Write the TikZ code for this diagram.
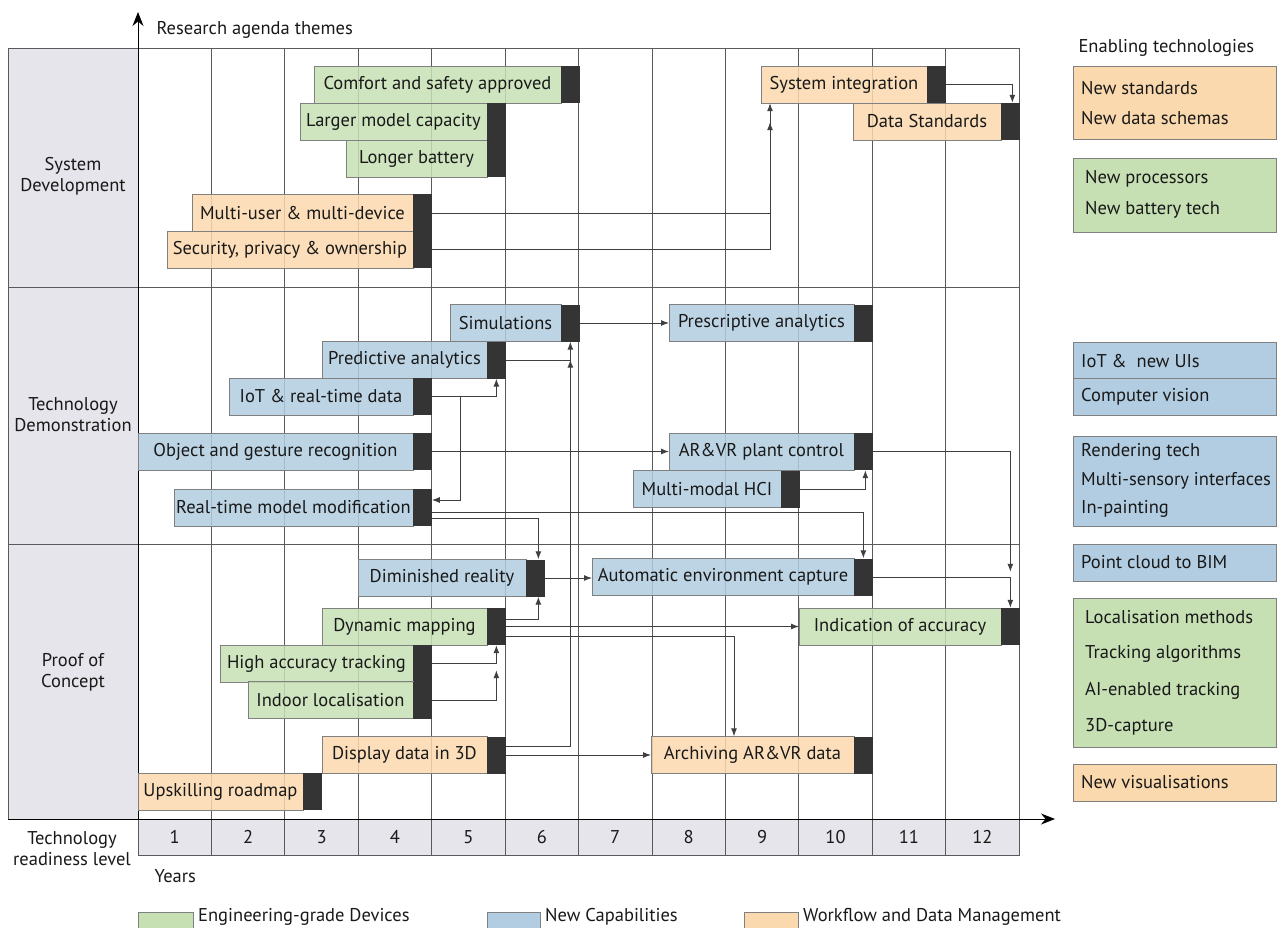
\documentclass[tikz,border=0pt]{standalone}
\usepackage{fontspec}
\setmainfont{PT Sans}
\usetikzlibrary{arrows.meta}
\definecolor{grn}{RGB}{198,224,180}
\definecolor{blu}{RGB}{178,205,225}
\definecolor{org}{RGB}{251,217,174}
\definecolor{endc}{RGB}{52,52,52}
\definecolor{lbl}{RGB}{229,229,235}
\definecolor{ink}{RGB}{25,25,25}
\definecolor{gridc}{RGB}{90,90,90}
\begin{document}
\begin{tikzpicture}[x=1pt,y=-1pt,
    every node/.style={font=\fontsize{18.5}{21}\selectfont, text=ink},
    gridline/.style={draw=gridc, line width=0.8pt},
    bar/.style={draw=gray, fill opacity=0.85, text opacity=1, minimum height=37pt, inner sep=0pt, anchor=west},
    endblock/.style={fill=endc, minimum width=18.5pt, minimum height=37pt, inner sep=0pt, anchor=west},
    link/.style={draw=gridc!70!black, line width=1pt, -{Latex[length=8pt,width=6pt]}},
    axis/.style={draw=black, line width=1pt, -{Stealth[length=14pt,width=11pt]}},
    techbox/.style={draw=gray, line width=0.8pt}]
    \useasboundingbox (0,0) rectangle (1284,928);

    % grid and theme column
    \fill[lbl] (8,48) rectangle (138,819);
    \foreach \i in {1,...,11}{
        \draw[gridline] (138+73.42*\i,48) -- (138+73.42*\i,819);
    }
    \foreach \y in {48,287,544}{
        \draw[gridline] (8,\y) -- (1019,\y);
    }
    \draw[gridline] (8,48) -- (8,819);
    \draw[gridline] (1019,48) -- (1019,819);

    % readiness level row
    \filldraw[fill=lbl, gridline] (138,819) rectangle (1019,855);
    \foreach \i in {1,...,12}{
        \draw[gridline] (138+73.42*\i,819) -- (138+73.42*\i,855);
        \node (trl\i) at (138+73.42*\i-36.71,837) {\i};
    }
    \draw[axis] (8,819) -- (1055,819);
    \draw[axis] (138,819) -- (138,12);

    \node[anchor=west] (themes) at (153,30) {Research agenda themes};
    \node[anchor=west] (enabling) at (1075,48) {Enabling technologies};
    \node[align=center] (secsys) at (73,176) {System\\Development};
    \node[align=center] (sectech) at (73,415) {Technology\\Demonstration};
    \node[align=center] (secpoc) at (73,672) {Proof of\\Concept};
    \node[align=center] (trllabel) at (72,849) {Technology\\readiness level};
    \node[anchor=west] (years) at (151,876) {Years};

    % bars
    \foreach \n/\xa/\xb/\yc/\c/\t in {
        comfort/314/579/84.5/grn/{Comfort and safety approved},
        capacity/300/505/121.5/grn/{Larger model capacity},
        battery/346/505/158.5/grn/{Longer battery},
        multiuser/192/431/213/org/{Multi-user \& multi-device},
        security/167/431/249.5/org/{Security, privacy \& ownership},
        integration/761/945/84.5/org/{System integration},
        datastd/853/1019/121.5/org/{Data Standards},
        simulations/450/579/323/blu/{Simulations},
        predictive/322/505/360/blu/{Predictive analytics},
        iot/229/431/396.5/blu/{IoT \& real-time data},
        gesture/138/431/451.5/blu/{Object and gesture recognition},
        realtime/174/431/507.5/blu/{Real-time model modification},
        prescriptive/669/872/323/blu/{Prescriptive analytics},
        arvr/669/872/451.5/blu/{AR\&VR plant control},
        hci/633/799/489/blu/{Multi-modal HCI},
        diminished/358/544/578/blu/{Diminished reality},
        capture/592/872/577/blu/{Automatic environment capture},
        mapping/322/505/626.5/grn/{Dynamic mapping},
        accuracy/799/1019/626.5/grn/{Indication of accuracy},
        tracking/220/431/663.5/grn/{High accuracy tracking},
        indoor/248/431/700/grn/{Indoor localisation},
        display/322/505/755/org/{Display data in 3D},
        archiving/651/872/755/org/{Archiving AR\&VR data},
        upskilling/138/321/791.5/org/{Upskilling roadmap}}{
        \node[bar, fill=\c, minimum width=\xb-\xa-18.5] (\n) at (\xa,\yc) {\t};
        \node[endblock] (\n-e) at (\n.east) {};
    }

    % system development links
    \draw[link] (multiuser-e) -| ([xshift=9pt]integration.south west);
    \draw[link] (security-e) -| ([xshift=9pt,yshift=-19pt]integration.south west);
    \draw[link] (integration-e) -| ([xshift=2pt]datastd-e.north);

    % technology demonstration links
    \draw[link] (simulations-e) -- (prescriptive);
    \draw[link] (predictive-e) -| (simulations-e.south);
    \draw[link] (iot-e) -| (predictive-e.south);
    \draw[link] (iot-e.east) -- ++(29,0) |- ([yshift=7.5pt]realtime-e.east);
    \draw[link] (gesture-e) -- (arvr);
    \draw[link] ([yshift=-4.5pt]realtime-e.east) -| (capture-e.north);
    \draw[link] ([yshift=-10.5pt]realtime-e.east) -| ([xshift=3pt]diminished-e.north);
    \draw[link] (hci-e) -| ([xshift=2pt]arvr-e.south);
    \draw[link] (arvr-e) -| ([yshift=36pt]accuracy-e.north);

    % proof of concept links
    \draw[link] (diminished-e) -- (diminished-e -| capture.west);
    \draw[link] (capture-e) -| (accuracy-e.north);
    \draw[link] ([yshift=7.5pt]mapping-e.east) -| ([xshift=3pt]diminished-e.south);
    \draw[link] (mapping-e) -- (accuracy);
    \draw[link] ([yshift=-9.5pt]mapping-e.east) -| ([xshift=83pt]archiving.north west);
    \draw[link] (tracking-e) -| (mapping-e.south);
    \draw[link] (indoor-e) -| ([yshift=-25pt]mapping-e.south);
    \draw[link] ([yshift=9pt]display-e.east) -| ([yshift=-18pt]simulations-e.south);
    \draw[link] (display-e) -- (archiving);

    % enabling technologies
    \foreach \ya/\yb/\c in {66/139/org,158/232/grn,342/415/blu,436/526/blu,544/581/blu,598/747/grn,764/801/org}{
        \filldraw[techbox, fill=\c] (1073,\ya) rectangle (1276,\yb);
    }
    \draw[techbox] (1073,378) -- (1276,378);
    \foreach \n/\x/\y/\t in {ta/1081/88/New standards, tb/1081/118/New data schemas,
        tc/1085/179/New processors, td/1085/210/New battery tech,
        te/1081/361/{IoT \&~ new UIs}, tf/1081/397/Computer vision,
        tg/1081/452/Rendering tech, th/1081/481/Multi-sensory interfaces, ti/1081/509/In-painting,
        tj/1081/562/Point cloud to BIM,
        tk/1085/617/Localisation methods, tl/1085/654/Tracking algorithms,
        tm/1085/691/AI-enabled tracking, tn/1085/727/3D-capture,
        to/1081/782/New visualisations}{
        \node[anchor=west, inner sep=0pt] (\n) at (\x,\y) {\t};
    }

    % legend
    \foreach \n/\xa/\xb/\c/\t in {devices/138/193/grn/Engineering-grade Devices,
        capabilities/487/540/blu/New Capabilities,
        workflow/744/798/org/Workflow and Data Management}{
        \filldraw[techbox, fill=\c] (\xa,912) rectangle (\xb,930);
        \node[anchor=west, inner sep=0pt] (\n) at (\xb+5,917) {\t};
    }
\end{tikzpicture}
\end{document}
